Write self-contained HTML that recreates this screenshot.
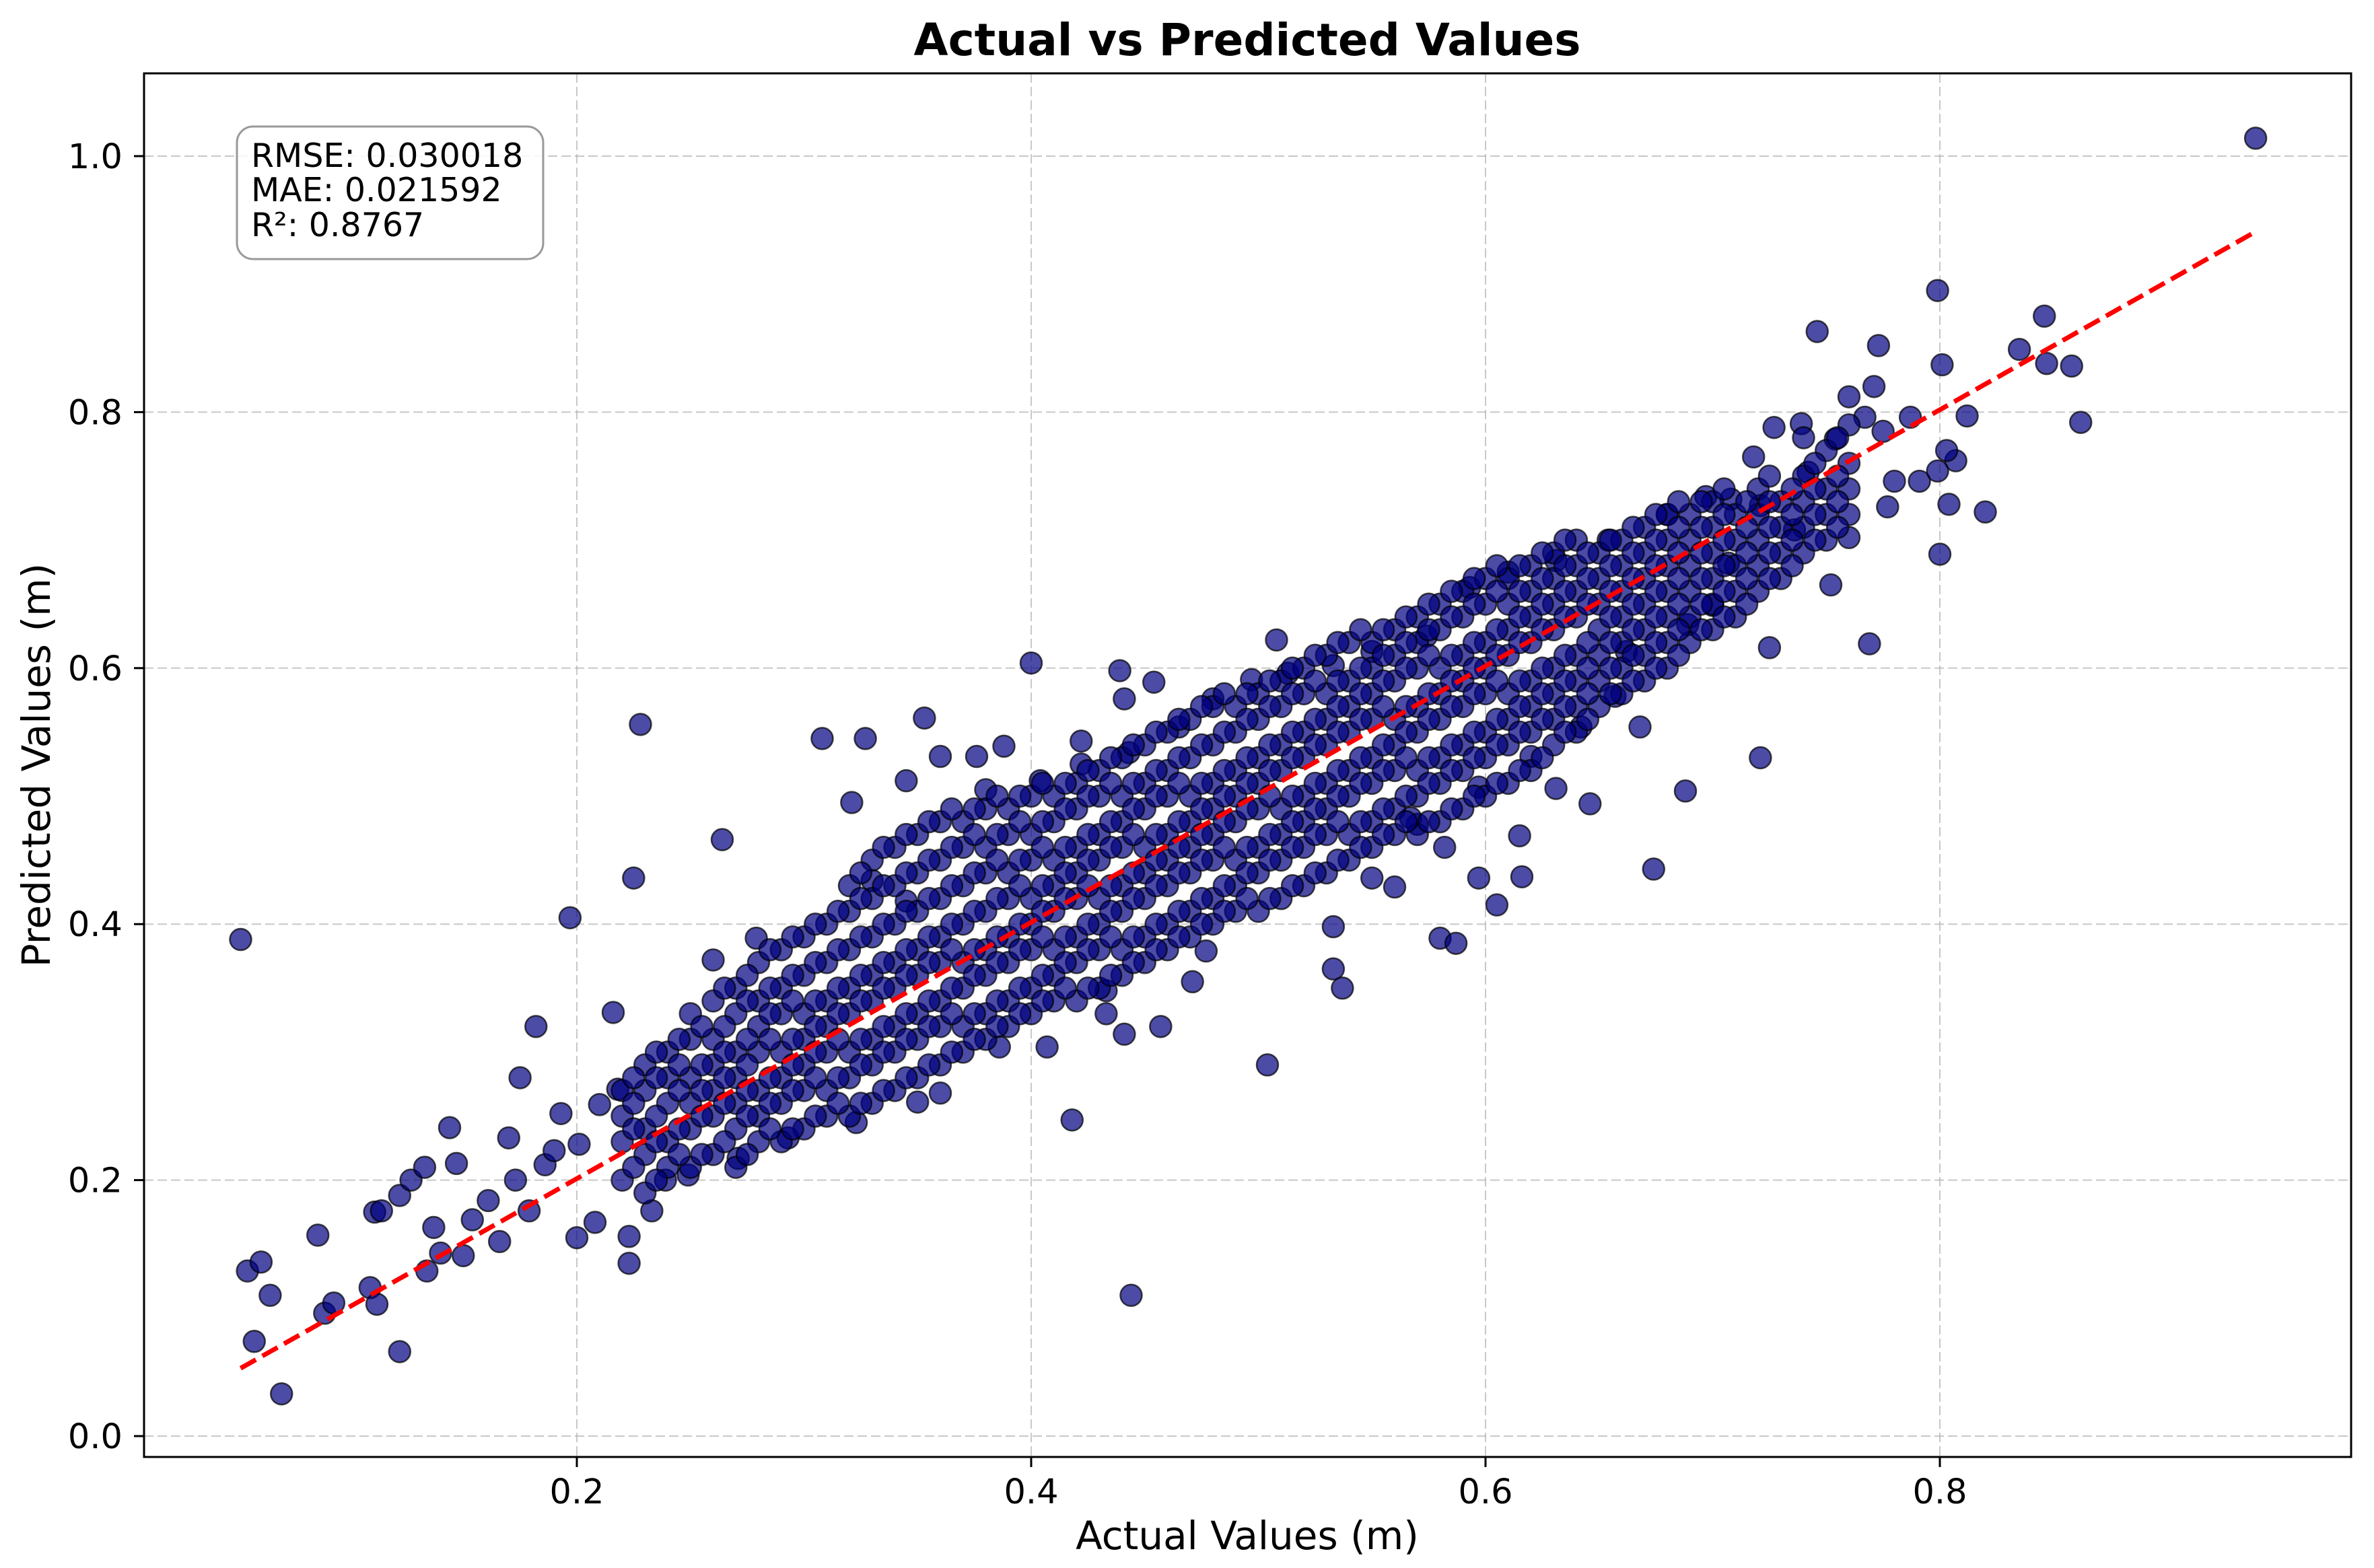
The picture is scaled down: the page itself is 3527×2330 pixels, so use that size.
<!DOCTYPE html>
<html><head><meta charset="utf-8"><style>
html,body{margin:0;padding:0;background:#fff;}
svg{display:block;font-family:"DejaVu Sans","Liberation Sans",sans-serif;}
</style></head><body>
<svg id="chart" width="3527" height="2330" viewBox="0 0 3527 2330" xmlns="http://www.w3.org/2000/svg">
<rect width="3527" height="2330" fill="#fff"/>
<g id="grid"></g>
<g id="points"></g>
<g id="fit"></g>
<rect x="214" y="109" width="3279" height="2056" fill="none" stroke="#000" stroke-width="3"/>
<g id="ticks"></g>
<text x="1853" y="82" text-anchor="middle" font-size="66" font-weight="bold">Actual vs Predicted Values</text>
<text x="1853" y="2302" text-anchor="middle" font-size="58">Actual Values (m)</text>
<text transform="translate(74,1137) rotate(-90)" text-anchor="middle" font-size="58">Predicted Values (m)</text>
<g>
<rect x="352" y="188" width="455" height="197" rx="24" fill="#fff" fill-opacity="0.85" stroke="#999" stroke-width="3"/>
<text x="373" y="248" font-size="49">RMSE: 0.030018</text>
<text x="373" y="299" font-size="49">MAE: 0.021592</text>
<text x="373" y="351" font-size="49">R²: 0.8767</text>
</g>
</svg>
<script>
const xTicks = [0.2, 0.4, 0.6, 0.8];
const xTickLabels = ["0.2", "0.4", "0.6", "0.8"];
const yTicks = [0.0, 0.2, 0.4, 0.6, 0.8, 1.0];
const yTickLabels = ["0.0", "0.2", "0.4", "0.6", "0.8", "1.0"];
const fitActual = [0.052, 0.939];
const fitPredicted = [0.053, 0.941];
const bandActual = [0.22,0.23,0.24,0.25,0.26,0.27,0.28,0.29,0.30,0.31,0.32,0.33,0.34,0.35,0.36,0.37,0.38,0.39,0.40,0.41,0.42,0.43,0.44,0.45,0.46,0.47,0.48,0.49,0.50,0.51,0.52,0.53,0.54,0.55,0.56,0.57,0.58,0.59,0.60,0.61,0.62,0.63,0.64,0.65,0.66,0.67,0.68,0.69,0.70,0.71,0.72,0.73,0.74,0.75,0.76];
const bandPredicted = [
[.20,.23,.25,.27],[.19,.22,.24,.27,.29],[.21,.23,.26,.28,.30],[.21,.24,.26,.28,.31,.33],
[.22,.25,.27,.29,.31,.34],[.21,.24,.26,.28,.30,.33,.35],[.23,.25,.27,.30,.32,.34,.37],
[.23,.26,.28,.30,.33,.35,.38],[.24,.27,.29,.31,.33,.36,.39],[.25,.27,.30,.32,.34,.37,.40],
[.25,.28,.30,.33,.35,.38,.41,.43],[.26,.29,.31,.34,.36,.39,.42,.45],[.27,.30,.32,.35,.37,.40,.43,.46],
[.28,.31,.33,.36,.38,.41,.44,.47],[.29,.32,.34,.37,.39,.42,.45,.48],[.30,.32,.35,.37,.40,.43,.46,.48],
[.31,.33,.36,.38,.41,.44,.46,.49],[.32,.34,.37,.39,.42,.44,.47,.49],[.33,.35,.38,.40,.42,.45,.47,.50],
[.34,.36,.38,.41,.43,.45,.48,.50],[.34,.37,.39,.42,.44,.46,.49,.51],[.35,.38,.40,.42,.45,.47,.50,.52],
[.36,.38,.41,.43,.46,.48,.50,.53],[.37,.39,.42,.44,.46,.49,.51,.54],[.38,.40,.43,.45,.47,.50,.52,.55],
[.39,.41,.44,.46,.48,.50,.53,.56],[.40,.42,.45,.47,.49,.51,.54,.57],[.41,.43,.45,.48,.50,.52,.55,.57],
[.41,.44,.46,.49,.51,.53,.56,.58],[.42,.45,.47,.49,.52,.54,.57,.59],[.43,.46,.48,.50,.53,.55,.58,.60],
[.44,.47,.49,.51,.54,.56,.58,.61],[.45,.47,.50,.52,.55,.57,.59,.62],[.46,.48,.51,.53,.56,.58,.60,.62],
[.47,.49,.52,.54,.56,.59,.61,.63],[.47,.50,.52,.55,.57,.60,.62,.64],[.48,.51,.53,.56,.58,.60,.63,.65],
[.49,.52,.54,.57,.59,.61,.64,.66],[.50,.53,.55,.58,.60,.62,.65,.67],[.51,.54,.56,.58,.61,.63,.65,.67],
[.52,.55,.57,.59,.62,.64,.66,.68],[.54,.56,.58,.60,.63,.65,.67,.69],[.55,.57,.59,.61,.64,.66,.68,.70],
[.57,.59,.61,.63,.65,.67,.69],[.58,.60,.62,.64,.66,.68,.70],[.59,.61,.63,.65,.67,.69,.71],
[.60,.62,.64,.66,.68,.70,.72],[.62,.64,.66,.68,.70,.72],[.63,.65,.67,.69,.71,.73],
[.64,.66,.68,.70,.72],[.66,.68,.70,.72,.74],[.67,.69,.71,.73],[.69,.71,.73,.75,.78],
[.70,.72,.74,.77],[.72,.74,.76,.79]
];
const bandMidActual = [0.225,0.235,0.245,0.255,0.265,0.275,0.285,0.295,0.305,0.315,0.325,0.335,0.345,0.355,0.365,0.375,0.385,0.395,0.405,0.415,0.425,0.435,0.445,0.455,0.465,0.475,0.485,0.495,0.505,0.515,0.525,0.535,0.545,0.555,0.565,0.575,0.585,0.595,0.605,0.615,0.625,0.635,0.645,0.655,0.665,0.675,0.685,0.695,0.705,0.715,0.725,0.735,0.745,0.755];
const bandMidPredicted = [
[.21,.24,.26,.28],[.20,.23,.25,.28,.30],[.22,.24,.27,.29,.31],[.22,.25,.27,.29,.32],
[.23,.26,.28,.30,.32,.35],[.22,.25,.27,.29,.31,.34,.36],[.24,.26,.28,.31,.33,.35,.38],
[.24,.27,.29,.31,.34,.36,.39],[.25,.28,.30,.32,.34,.37,.40],[.26,.28,.31,.33,.35,.38,.41],
[.26,.29,.31,.34,.36,.39,.42,.44],[.27,.30,.32,.35,.37,.40,.43,.46],[.28,.31,.33,.36,.38,.41,.44,.47],
[.29,.32,.34,.37,.39,.42,.45,.48],[.30,.33,.35,.38,.40,.43,.46,.49],[.31,.33,.36,.38,.41,.44,.47,.49],
[.32,.34,.37,.39,.42,.45,.47,.50],[.33,.35,.38,.40,.43,.45,.48,.50],[.34,.36,.39,.41,.43,.46,.48,.51],
[.35,.37,.39,.42,.44,.46,.49,.51],[.35,.38,.40,.43,.45,.47,.50,.52],[.36,.39,.41,.43,.46,.48,.51,.53],
[.37,.39,.42,.44,.47,.49,.51,.54],[.38,.40,.43,.45,.47,.50,.52,.55],[.39,.41,.44,.46,.48,.51,.53,.56],
[.40,.42,.45,.47,.49,.51,.54,.57],[.41,.43,.46,.48,.50,.52,.55,.58],[.42,.44,.46,.49,.51,.53,.56,.58],
[.42,.45,.47,.50,.52,.54,.57,.59],[.43,.46,.48,.50,.53,.55,.58,.60],[.44,.47,.49,.51,.54,.56,.59,.61],
[.45,.48,.50,.52,.55,.57,.59,.62],[.46,.48,.51,.53,.56,.58,.60,.63],[.47,.49,.52,.54,.57,.59,.61,.63],
[.48,.50,.53,.55,.57,.60,.62,.64],[.48,.51,.53,.56,.58,.61,.63,.65],[.49,.52,.54,.57,.59,.61,.64,.66],
[.50,.53,.55,.58,.60,.62,.65,.67],[.51,.54,.56,.59,.61,.63,.66,.68],[.52,.55,.57,.59,.62,.64,.66,.68],
[.53,.56,.58,.60,.63,.65,.67,.69],[.55,.57,.59,.61,.64,.66,.68,.70],[.56,.58,.60,.62,.65,.67,.69],
[.58,.60,.62,.64,.66,.68,.70],[.59,.61,.63,.65,.67,.69,.71],[.60,.62,.64,.66,.68,.70,.72],
[.61,.63,.65,.67,.69,.71,.73],[.63,.65,.67,.69,.71,.73],[.64,.66,.68,.70,.72,.74],
[.65,.67,.69,.71,.73],[.67,.69,.71,.73,.75],[.68,.70,.72,.74],[.70,.72,.74,.76],[.71,.73,.75,.78]
];
const outlierActual = [0.052,0.055,0.061,0.065,0.058,0.070,0.086,0.089,0.093,0.109,0.111,0.114,0.112,0.122,0.122,0.127,0.133,0.134,0.137,0.140,0.144,0.147,0.150,0.154,0.161,0.166,0.170,0.175,0.182,0.197,0.173,0.186,0.179,0.200,0.208,0.216,0.225,0.228,0.223,0.223,0.233,0.264,0.260,0.279,0.308,0.321,0.327,0.345,0.353,0.400,0.439,0.454,0.441,0.418,0.444,0.407,0.441,0.457,0.504,0.533,0.537,0.508,0.560,0.580,0.587,0.605,0.616,0.674,0.688,0.721,0.725,0.769,0.689,0.668,0.646,0.800,0.820,0.804,0.807,0.862,0.812,0.858,0.847,0.835,0.846,0.801,0.799,0.746,0.773,0.771,0.760,0.939,0.777,0.791,0.799,0.780,0.803,0.775,0.787,0.767,0.754,0.739,0.727,0.752,0.760,0.736,0.718,0.708,0.721,0.742,0.631,0.615,0.597,0.570,0.550,0.533,0.477,0.471,0.433,0.433,0.386,0.360,0.350,0.323,0.293,0.271,0.249,0.239,0.218,0.210,0.201,0.193,0.190,0.330,0.345,0.360,0.376,0.388,0.380,0.404,0.422,0.422,0.443,0.465,0.480,0.497,0.513,0.533,0.550,0.574,0.593,0.610,0.631,0.654,0.680,0.697,0.707,0.700,0.662,0.657,0.642,0.620,0.597,0.582,0.567];
const outlierPredicted = [0.388,0.129,0.136,0.110,0.074,0.033,0.157,0.096,0.104,0.116,0.175,0.176,0.103,0.066,0.188,0.200,0.210,0.129,0.163,0.143,0.241,0.213,0.141,0.169,0.184,0.152,0.233,0.280,0.320,0.405,0.200,0.212,0.176,0.155,0.167,0.331,0.436,0.556,0.135,0.156,0.176,0.466,0.372,0.389,0.545,0.495,0.545,0.512,0.561,0.604,0.598,0.589,0.576,0.247,0.110,0.304,0.314,0.320,0.290,0.365,0.350,0.622,0.429,0.389,0.385,0.415,0.437,0.443,0.504,0.530,0.616,0.619,0.634,0.554,0.494,0.689,0.722,0.728,0.762,0.792,0.797,0.836,0.838,0.849,0.875,0.837,0.895,0.863,0.852,0.820,0.812,1.014,0.726,0.746,0.754,0.746,0.770,0.785,0.796,0.796,0.779,0.791,0.788,0.665,0.702,0.708,0.765,0.732,0.727,0.753,0.506,0.469,0.436,0.478,0.436,0.398,0.379,0.355,0.330,0.348,0.304,0.268,0.261,0.245,0.233,0.217,0.204,0.200,0.271,0.259,0.228,0.252,0.223,0.434,0.418,0.531,0.531,0.539,0.505,0.512,0.525,0.543,0.534,0.554,0.576,0.591,0.596,0.602,0.613,0.625,0.663,0.675,0.684,0.700,0.720,0.734,0.682,0.649,0.613,0.578,0.554,0.531,0.507,0.460,0.483];

const NS = "http://www.w3.org/2000/svg";
function xScale(v){ return 857 + (v - 0.2) * 3375; }
function yScale(v){ return 2134 - v * 1902; }
function mk(tag, attrs, parent){
  const el = document.createElementNS(NS, tag);
  for (const k in attrs) el.setAttribute(k, attrs[k]);
  parent.appendChild(el);
  return el;
}
const grid = document.getElementById('grid');
const ticks = document.getElementById('ticks');
xTicks.forEach((t, i) => {
  const x = xScale(t);
  const g = mk('line', {x1:x, x2:x, y1:109, y2:2165, stroke:'#b0b0b0', 'stroke-width':2, 'stroke-dasharray':'14,6', 'stroke-opacity':0.7}, grid);
  
  
  const tk = mk('line', {x1:x, x2:x, y1:2165, y2:2180, stroke:'#000', 'stroke-width':3}, ticks);
  
  
  const lb = mk('text', {x:x, y:2234, 'text-anchor':'middle', 'font-size':51}, ticks);
  lb.textContent = xTickLabels[i];
  
  
});
yTicks.forEach((t, i) => {
  const y = yScale(t);
  const g = mk('line', {x1:214, x2:3493, y1:y, y2:y, stroke:'#b0b0b0', 'stroke-width':2, 'stroke-dasharray':'14,6', 'stroke-opacity':0.7}, grid);
  
  
  const tk = mk('line', {x1:199, x2:214, y1:y, y2:y, stroke:'#000', 'stroke-width':3}, ticks);
  
  
  const lb = mk('text', {x:182, y:y + 18, 'text-anchor':'end', 'font-size':51}, ticks);
  lb.textContent = yTickLabels[i];
  
  
});
const pts = document.getElementById('points');
function dot(a, p){
  const c = mk('circle', {cx:xScale(a), cy:yScale(p), r:16, fill:'#000080', 'fill-opacity':0.7, stroke:'#000', 'stroke-opacity':0.7, 'stroke-width':2.5}, pts);
  
  
}
outlierActual.forEach((a, i) => dot(a, outlierPredicted[i]));
bandActual.forEach((a, i) => bandPredicted[i].forEach(p => dot(a, p)));
bandMidActual.forEach((a, i) => bandMidPredicted[i].forEach(p => dot(a, p)));
const fit = document.getElementById('fit');
const fl = mk('line', {x1:xScale(fitActual[0]), y1:yScale(fitPredicted[0]), x2:xScale(fitActual[1]), y2:yScale(fitPredicted[1]), stroke:'#ff0000', 'stroke-width':7, 'stroke-dasharray':'26,11'}, fit);


</script>
</body></html>
